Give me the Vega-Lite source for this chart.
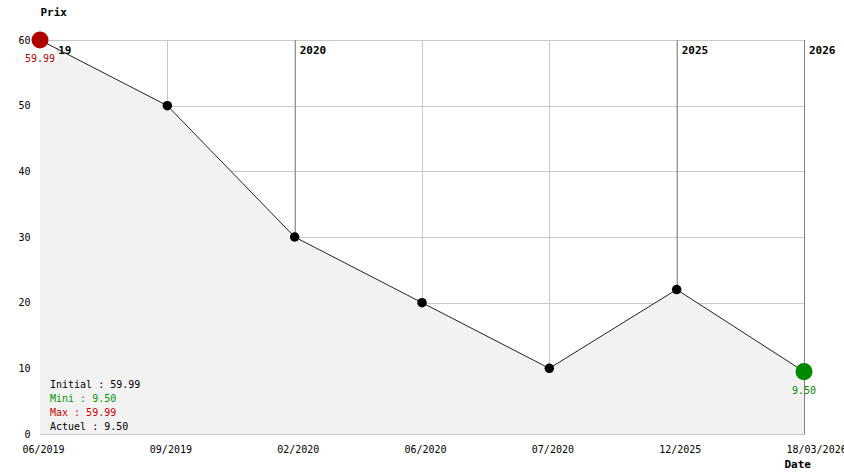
{
  "$schema": "https://vega.github.io/schema/vega-lite/v6.json",
  "width": 764,
  "height": 394,
  "autosize": {"type": "none"},
  "padding": {"left": 40, "top": 40, "right": 40, "bottom": 40},
  "background": "white",
  "config": {
    "view": {"stroke": null},
    "font": "DejaVu Sans Mono",
    "axis": {"labelFont": "DejaVu Sans Mono", "titleFont": "DejaVu Sans Mono", "labelColor": "#000000", "titleColor": "#000000", "gridColor": "#c8c8c8", "gridOpacity": 1, "domain": false, "ticks": false}
  },
  "datasets": {
    "prix": [
      {"date": "06/2019", "prix": 59.99, "pos": "first"},
      {"date": "09/2019", "prix": 50, "pos": "mid"},
      {"date": "02/2020", "prix": 30, "pos": "mid"},
      {"date": "06/2020", "prix": 20, "pos": "mid"},
      {"date": "07/2020", "prix": 10, "pos": "mid"},
      {"date": "12/2025", "prix": 22, "pos": "mid"},
      {"date": "18/03/2026", "prix": 9.5, "pos": "last"}
    ],
    "years": [
      {"date": "06/2019", "year": "2019"},
      {"date": "02/2020", "year": "2020"},
      {"date": "12/2025", "year": "2025"},
      {"date": "18/03/2026", "year": "2026"}
    ],
    "stats": [
      {"kind": "Initial", "label": "Initial : 59.99"},
      {"kind": "Mini", "label": "Mini : 9.50"},
      {"kind": "Max", "label": "Max : 59.99"},
      {"kind": "Actuel", "label": "Actuel : 9.50"}
    ]
  },
  "encoding": {
    "x": {
      "field": "date", "type": "ordinal",
      "scale": {"type": "point", "padding": 0, "domain": ["06/2019", "09/2019", "02/2020", "06/2020", "07/2020", "12/2025", "18/03/2026"]},
      "axis": {"grid": true, "labelAngle": 0, "labelAlign": "left", "labelOffset": -18, "labelPadding": 10, "labelFontSize": 10, "title": "Date", "titleFontSize": 11, "titleFontWeight": "bold", "titleAlign": "left", "titleBaseline": "middle", "titleX": 744, "titleY": 30, "labelOverlap": false, "labelBound": false, "labelFlush": false}
    }
  },
  "layer": [
    {
      "data": {"name": "years"},
      "mark": {"type": "rule", "color": "#808080", "strokeWidth": 1, "xOffset": 0.5},
      "encoding": {
        "y": {"datum": 0, "type": "quantitative"},
        "y2": {"datum": 60}
      }
    },
    {
      "data": {"name": "prix"},
      "mark": {"type": "area", "color": "#f2f2f2", "opacity": 1},
      "encoding": {
        "y": {
          "field": "prix", "type": "quantitative",
          "scale": {"domain": [0, 60], "nice": false, "zero": true},
          "axis": {"grid": true, "values": [0, 10, 20, 30, 40, 50, 60], "labelFontSize": 10, "labelPadding": 10, "title": "Prix", "titleAngle": 0, "titleFontSize": 11, "titleFontWeight": "bold", "titleAlign": "left", "titleBaseline": "middle", "titleX": 0, "titleY": -28}
        }
      }
    },
    {
      "data": {"name": "years"},
      "mark": {"type": "text", "align": "left", "baseline": "middle", "dx": 5, "dy": 11, "fontSize": 11, "fontWeight": "bold", "color": "#000000"},
      "encoding": {
        "y": {"datum": 60, "type": "quantitative"},
        "text": {"field": "year"}
      }
    },
    {
      "data": {"name": "prix"},
      "transform": [{"filter": "datum.pos == 'first'"}],
      "mark": {"type": "point", "filled": true, "color": "#ffffff", "strokeWidth": 0, "opacity": 1, "size": 1225, "shape": "M-1,-0.5L1,-0.5L1,0.5L-1,0.5Z", "yOffset": 13},
      "encoding": {"y": {"field": "prix", "type": "quantitative"}}
    },
    {
      "data": {"name": "prix"},
      "mark": {"type": "line", "color": "#222222", "strokeWidth": 1},
      "encoding": {"y": {"field": "prix", "type": "quantitative"}}
    },
    {
      "data": {"name": "prix"},
      "mark": {"type": "point", "filled": true, "color": "#000000", "size": 90, "opacity": 1},
      "encoding": {"y": {"field": "prix", "type": "quantitative"}}
    },
    {
      "data": {"name": "prix"},
      "transform": [{"filter": "datum.pos == 'first'"}],
      "mark": {"type": "point", "filled": true, "color": "#b00000", "size": 290, "opacity": 1},
      "encoding": {"y": {"field": "prix", "type": "quantitative"}}
    },
    {
      "data": {"name": "prix"},
      "transform": [{"filter": "datum.pos == 'last'"}],
      "mark": {"type": "point", "filled": true, "color": "#008800", "size": 290, "opacity": 1},
      "encoding": {"y": {"field": "prix", "type": "quantitative"}}
    },
    {
      "data": {"name": "prix"},
      "transform": [{"filter": "datum.pos == 'first'"}],
      "mark": {"type": "text", "color": "#b00000", "fontSize": 10, "baseline": "middle", "dy": 19},
      "encoding": {"y": {"field": "prix", "type": "quantitative"}, "text": {"field": "prix", "format": ".2f"}}
    },
    {
      "data": {"name": "prix"},
      "transform": [{"filter": "datum.pos == 'last'"}],
      "mark": {"type": "text", "color": "#008800", "fontSize": 10, "baseline": "middle", "dy": 19},
      "encoding": {"y": {"field": "prix", "type": "quantitative"}, "text": {"field": "prix", "format": ".2f"}}
    },
    {
      "data": {"name": "stats"},
      "transform": [{"filter": "datum.kind == 'Initial'"}],
      "mark": {"type": "text", "color": "#000000", "fontSize": 10, "align": "left", "baseline": "middle", "dx": 10, "dy": -49},
      "encoding": {"x": {"datum": "06/2019", "type": "ordinal"}, "y": {"datum": 0, "type": "quantitative"}, "text": {"field": "label"}}
    },
    {
      "data": {"name": "stats"},
      "transform": [{"filter": "datum.kind == 'Mini'"}],
      "mark": {"type": "text", "color": "#009900", "fontSize": 10, "align": "left", "baseline": "middle", "dx": 10, "dy": -35},
      "encoding": {"x": {"datum": "06/2019", "type": "ordinal"}, "y": {"datum": 0, "type": "quantitative"}, "text": {"field": "label"}}
    },
    {
      "data": {"name": "stats"},
      "transform": [{"filter": "datum.kind == 'Max'"}],
      "mark": {"type": "text", "color": "#cc0000", "fontSize": 10, "align": "left", "baseline": "middle", "dx": 10, "dy": -21},
      "encoding": {"x": {"datum": "06/2019", "type": "ordinal"}, "y": {"datum": 0, "type": "quantitative"}, "text": {"field": "label"}}
    },
    {
      "data": {"name": "stats"},
      "transform": [{"filter": "datum.kind == 'Actuel'"}],
      "mark": {"type": "text", "color": "#000000", "fontSize": 10, "align": "left", "baseline": "middle", "dx": 10, "dy": -7},
      "encoding": {"x": {"datum": "06/2019", "type": "ordinal"}, "y": {"datum": 0, "type": "quantitative"}, "text": {"field": "label"}}
    }
  ]
}
